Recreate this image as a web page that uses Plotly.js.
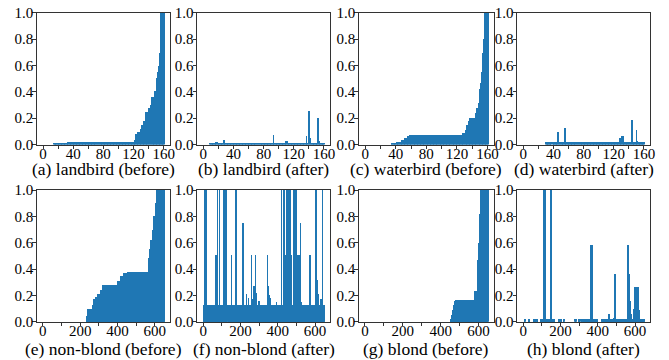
<!DOCTYPE html>
<html>
<head>
<meta charset="utf-8">
<script src="https://cdn.plot.ly/plotly-3.0.1.min.js"></script>
<style>
html,body{margin:0;padding:0;background:#fff;}
#chart{width:669px;height:360px;}
</style>
</head>
<body>
<div id="chart"></div>
<script>
// ---- captions ----
const captions = [
  "(a) landbird (before)", "(b) landbird (after)", "(c) waterbird (before)", "(d) waterbird (after)",
  "(e) non-blond (before)", "(f) non-blond (after)", "(g) blond (before)", "(h) blond (after)"
];
const yTickVals = [0, 0.2, 0.4, 0.6, 0.8, 1.0];
const yTickText = ["0.0", "0.2", "0.4", "0.6", "0.8", "1.0"];
const topTickVals = [0, 20, 40, 60, 80, 100, 120, 140, 160];
const topTickText = ["0", "", "40", "", "80", "", "120", "", "160"];
const botTickVals = [0, 100, 200, 300, 400, 500, 600];
const botTickText = ["0", "", "200", "", "400", "", "600"];

// ---- data as runs (value, count) ----
const a_vals   = [0, 0.01, 0.02, 0.025, 0.04, 0.08, 0.10, 0.12, 0.15, 0.18, 0.25, 0.28, 0.30, 0.36, 0.41, 0.45, 0.51, 0.55, 0.60, 0.67, 0.70, 1.0];
const a_counts = [14, 18, 86, 3, 2, 3, 3, 2, 2, 3, 4, 2, 2, 4, 2, 1, 1, 1, 1, 1, 1, 5];

const b_vals   = [0, 0.015, 0.025, 0.015, 0.035, 0.008, 0.015, 0.078, 0.015, 0.03, 0.015, 0.008, 0.015, 0.07, 0.015, 0.26, 0.12, 0.05, 0.015, 0.20, 0.015, 0.03, 0.015];
const b_counts = [9, 8, 2, 8, 2, 4, 60, 1, 16, 2, 5, 9, 11, 1, 2, 1, 1, 1, 9, 1, 1, 1, 6];

const c_vals   = [0, 0.012, 0.025, 0.04, 0.055, 0.068, 0.078, 0.09, 0.11, 0.15, 0.18, 0.205, 0.24, 0.28, 0.32, 0.37, 0.42, 0.47, 0.55, 0.60, 0.70, 0.80, 1.0];
const c_counts = [34, 7, 6, 5, 3, 3, 70, 3, 2, 2, 2, 7, 2, 2, 1, 1, 1, 1, 1, 1, 1, 1, 5];

const d_vals   = [0, 0.025, 0.01, 0.025, 0, 0.025, 0.095, 0.02, 0, 0.025, 0.13, 0.02, 0.055, 0.02, 0.065, 0.02, 0.19, 0.02, 0.11, 0.03, 0.02];
const d_counts = [30, 4, 1, 3, 1, 7, 1, 1, 1, 6, 1, 72, 1, 2, 2, 11, 1, 5, 1, 1, 9];

const e_vals   = [0, 0.04, 0.10, 0.13, 0.17, 0.19, 0.21, 0.24, 0.28, 0.31, 0.35, 0.37, 0.38, 0.48, 0.55, 0.62, 0.70, 0.80, 0.90, 1.0];
const e_counts = [232, 6, 25, 8, 10, 12, 15, 13, 77, 17, 18, 18, 113, 6, 6, 9, 9, 7, 6, 43];

// (f): leading zero run, then a 0.13 floor with the spikes / dips listed below
const f_lead = 1;
const f_floor = 0.13;
const f_total = 650;
const f_spike_at  = [6,14,68,77,86,112,120,130,152,175,214,233,242,259,265,273,281,286,291,299,313,318,343,349,354,359,363,375,383,393,419,433,442,446,455,465,473,487,494,499,505,513,520,526,573,587,605,614,619,631,638];
const f_spike_len = [3,4,3,3,3,6,7,6,3,3,3,2,2,3,2,3,2,2,3,2,3,3,3,2,2,2,3,3,6,2,3,3,2,3,3,3,2,3,3,3,2,2,3,2,3,6,3,2,2,2,3];
const f_spike_val = [1,1,0.51,1,1,1,1,0,0.51,1,0.75,0.21,0.18,0.51,0.17,0.27,0.51,0.22,0.09,0.16,0.1,0.05,0.51,0.27,0.2,0.18,0.09,0.1,0,0.15,1,1,0.51,1,1,1,0.51,1,1,1,0.51,0.51,0.75,0.15,0.51,0.05,1,0.32,0.21,0.17,1];

const g_vals   = [0, 0.02, 0.05, 0.09, 0.13, 0.155, 0.165, 0.23, 0.47, 0.60, 0.82, 1.0];
const g_counts = [450, 7, 6, 6, 5, 4, 102, 13, 5, 5, 7, 40];

const h_vals   = [0,0.02,0,0.02,0,0.02,0,0.02,0,0.02,0,0.02,1.0,0.02,1.0,0.02,0,0.02,0,0.02,0,0.02,0,0.02,0,0.02,0,0.02,0,0.02,0.58,0.02,0,0.02,0.06,0.02,0.03,0.02,0.36,0.02,0.58,0.36,0.16,0.02,0.06,0.02,0.10,0.02,0.26,0.09,0.26,0.09,0.02];
const h_counts = [7,4,17,8,19,6,3,4,5,6,12,17,10,31,3,19,18,10,4,5,8,4,58,7,11,10,8,5,4,41,9,28,21,35,4,23,4,5,4,65,5,3,4,3,4,11,3,5,8,3,9,7,23];

// ---- helpers to build per-index series ----
function expand(vals, counts) {
  const out = [];
  for (let i = 0; i < vals.length; i++) for (let k = 0; k < counts[i]; k++) out.push(vals[i]);
  return out;
}
function withSpikes(total, lead, floor, at, len, val) {
  const out = [];
  for (let i = 0; i < total; i++) out.push(i < lead ? 0 : floor);
  for (let s = 0; s < at.length; s++) for (let k = 0; k < len[s]; k++) if (at[s] + k < total) out[at[s] + k] = val[s];
  return out;
}

const series = [
  expand(a_vals, a_counts), expand(b_vals, b_counts), expand(c_vals, c_counts), expand(d_vals, d_counts),
  expand(e_vals, e_counts), withSpikes(f_total, f_lead, f_floor, f_spike_at, f_spike_len, f_spike_val),
  expand(g_vals, g_counts), expand(h_vals, h_counts)
];

// ---- layout geometry (pixels -> paper) ----
const W = 669, H = 360;
const colPx = [[36.7, 170], [197, 330.3], [358.7, 494], [517, 650.3]];
const rowPx = [[12.7, 144.5], [190, 321.7]];
const captionCenterPx = [168.5, 348.5];

const FONT = "Liberation Serif, Times New Roman, serif";
const spine = "#333333";

const data = [];
const annotations = [];
const layout = {
  width: W, height: H,
  margin: {l: 0, r: 0, t: 0, b: 0},
  paper_bgcolor: "#fff", plot_bgcolor: "#fff",
  showlegend: false, bargap: 0,
  font: {family: FONT, size: 15, color: "#000"}
};

for (let p = 0; p < 8; p++) {
  const r = Math.floor(p / 4), c = p % 4;
  const ys = series[p];
  const n = ys.length;
  const xs = ys.map((_, i) => i);
  const suffix = p === 0 ? "" : String(p + 1);
  data.push({
    type: "bar", x: xs, y: ys,
    xaxis: "x" + suffix, yaxis: "y" + suffix,
    marker: {color: "#1f77b4", line: {width: 0}},
    hoverinfo: "skip"
  });
  const pad = 0.05 * (n - 0.2);
  const xr = [-0.4 - pad, n - 0.6 + pad];
  const top = r === 0;
  layout["xaxis" + suffix] = {
    domain: [colPx[c][0] / W, colPx[c][1] / W],
    anchor: "y" + suffix,
    range: xr,
    tickmode: "array",
    tickvals: top ? topTickVals : botTickVals,
    ticktext: top ? topTickText : botTickText,
    ticks: "outside", ticklen: 3.5, tickwidth: 1, tickcolor: spine,
    ticklabelstandoff: -8,
    showline: true, mirror: true, linecolor: spine, linewidth: 1,
    showgrid: false, zeroline: false, fixedrange: true,
    tickfont: {family: FONT, size: 15, color: "#000"}
  };
  layout["yaxis" + suffix] = {
    domain: [1 - rowPx[r][1] / H, 1 - rowPx[r][0] / H],
    anchor: "x" + suffix,
    range: [0, 1],
    tickmode: "array", tickvals: yTickVals, ticktext: yTickText,
    ticks: "outside", ticklen: 3.5, tickwidth: 1, tickcolor: spine,
    ticklabelstandoff: -4,
    showline: true, mirror: true, linecolor: spine, linewidth: 1,
    showgrid: false, zeroline: false, fixedrange: true,
    tickfont: {family: FONT, size: 15, color: "#000"}
  };
  annotations.push({
    xref: "paper", yref: "paper",
    x: (colPx[c][0] + colPx[c][1]) / 2 / W,
    y: 1 - captionCenterPx[r] / H,
    xanchor: "center", yanchor: "middle",
    text: captions[p], showarrow: false, borderpad: 0,
    font: {family: FONT, size: 17.5, color: "#000"}
  });
}
layout.annotations = annotations;

Plotly.newPlot("chart", data, layout, {displayModeBar: false, responsive: false});
</script>
</body>
</html>
